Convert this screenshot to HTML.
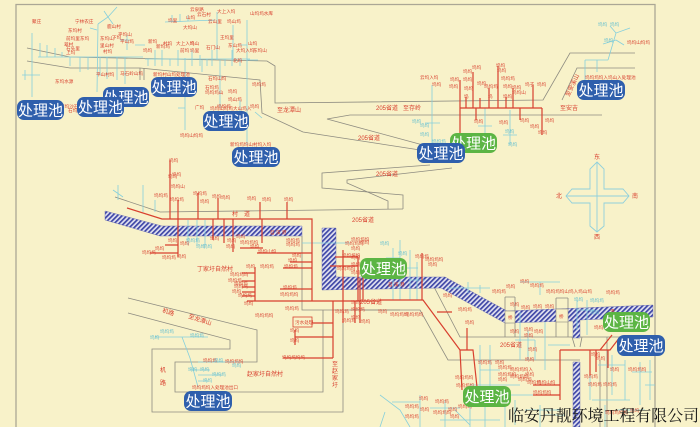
<!DOCTYPE html>
<html><head><meta charset="utf-8">
<style>
html,body{margin:0;padding:0;background:#f8f2c9;width:700px;height:427px;overflow:hidden}
svg{display:block}
.s{font-family:"Liberation Sans","Noto Sans CJK SC",sans-serif;font-size:4.6px;fill:#d8402f}
.c{font-family:"Liberation Sans","Noto Sans CJK SC",sans-serif;font-size:4.6px;fill:#5bbcd0}
.m{font-family:"Liberation Sans","Noto Sans CJK SC",sans-serif;font-size:6px;fill:#d8402f}
.lb{font-family:"Liberation Sans","Noto Sans CJK SC",sans-serif;font-size:15px;fill:#fff}
</style></head><body>
<svg width="700" height="427" viewBox="0 0 700 427" xmlns="http://www.w3.org/2000/svg">
<defs>
<pattern id="h" width="3.4" height="3.4" patternUnits="userSpaceOnUse" patternTransform="rotate(45)">
<rect width="3.4" height="3.4" fill="#e2e2f0"/>
<rect width="1.7" height="3.4" fill="#3e46a6"/>
</pattern>
</defs>
<rect width="700" height="427" fill="#f8f2c9"/>
<path d="M16 427 V4.5 H655 V427" fill="none" stroke="#aba795" stroke-width="1.3"/>

<!-- gray roads -->
<g fill="none" stroke="#8d8b80" stroke-width="0.8">
<path d="M27 48 L70 57 L267 61 L275 66 L275 103 L543 100 L570 53 L635 53"/>
<path d="M27 61 L70 68 L140 68 L260 80 L262 113 L303 132 L420 150"/>
<path d="M140 68 V80 M144 68 V80"/>
<path d="M602 115 L350 115 L327 119 L423 145"/>
<path d="M562 100 L577 68 L635 68"/>
<path d="M430 165 L322 173 L322 188 L403 195 L403 209"/>
<path d="M452 168 L347 180 L347 183 L388 201 L388 209"/>
<path d="M115 197 L160 212 L403 209"/>
<path d="M302 236 L302 310 L400 310"/>
<path d="M128 298 L257 330 L257 362 L175 362 L175 392 L323 392 L323 310"/>
<path d="M128 313 L230 340 L230 349 L152 349 L152 412 L343 412 L343 310"/>
<path d="M433 285 L460 337 L653 337"/>
<path d="M350 310 L420 310 L448 360 L580 360"/>
<path d="M505 297 V337 M515 297 V337 M505 297 H515 M556 298 V337 M568 298 V337 M556 298 H568"/>
<path d="M572 337 L575 347 M582 337 L580 347"/>
<path d="M607 337 V427 M600 360 V427"/>
</g>

<!-- rivers -->
<g fill="url(#h)" stroke="#5a5fb0" stroke-width="0.4">
<polygon points="105,211 162,226 302,226 302,236 160,236 105,220"/>
<polygon points="322,228 336,228 336,277 445,277 507,311 653,305 653,317 580,320 580,338 573,338 573,321 505,323 441,288 322,290"/>
<polygon points="573,362 580,362 580,427 573,427"/>
</g>
<g fill="#f8f2c9" stroke="#8d8b80" stroke-width="0.6">
<rect x="505" y="311" width="10" height="12"/>
<rect x="556" y="309" width="12" height="13"/>
</g>
<text class="s" x="270" y="234" font-size="5">苕 溪 港</text>
<text class="s" x="388" y="286" font-size="5">苕 溪 港</text>
<text class="s" x="508" y="319">桥</text>
<text class="s" x="559" y="318">桥</text>
<text class="s" x="610" y="313">港</text>

<!-- cyan network -->
<g fill="none" stroke="#85cfdc" stroke-width="0.8">
<path d="M117 7 L108 17 L98 24 M108 17 L113 24 M108 17 L104 11 M98 24 L97 92 M90 28 L97 30"/>
<path d="M32 33 V97 M22 75 H40 M25 70 V80"/>
<path d="M38 57 H143 M40 43 V57 M47 45 V57 M55 48 V57 M62 52 V57"/>
<path d="M70 57 V66 M80 57 V72 M88 57 V70 M100 57 V76 M107 57 V79 M117 57 V80 M125 57 V84"/>
<path d="M145 59 H250 M148 59 V66 M155 50 V66 M162 50 V66 M170 59 V66 M178 50 V66 M192 50 V66 M200 55 V66 M207 59 V66 M212 50 V66 M225 59 V66 M232 50 V66 M240 59 V66"/>
<path d="M185 58 V130 M178 108 H185 M220 60 V108 M202 60 V72 M247 20 V145 M240 45 H247 M247 60 H258 M240 100 V125 M255 112 L262 118"/>
<path d="M165 22 L215 20 M172 15 V22 M180 14 V22 M188 15 V21 M217 12 V60 M233 25 V60"/>
<path d="M120 40 H130 M127 35 V50 M135 45 H145"/>
<path d="M432 85 V143 M425 123 H440 M485 108 V140 M478 126 H492 M510 110 V145 M503 135 H517"/>
<path d="M585 60 V80 M585 60 H608 M597 60 V72 M608 60 L616 33 L630 28 M603 44 L616 40 M610 26 L616 33 M616 40 L624 45"/>
<path d="M118 185 V200 M113 190 L123 197 M143 185 V212 M155 200 V212 M188 220 V245 M197 220 V245 M205 220 V245 M302 243 H350"/>
<path d="M155 337 H208 M182 337 L190 358 L198 387 M198 362 H240 M190 370 H210 M198 375 H222 M198 381 H208"/>
<path d="M393 248 V300 M400 240 V300 M410 250 V300 M417 262 V300 M386 258 H400 M400 268 H418 M410 280 H425"/>
<path d="M447 288 H490 M468 282 V293 M480 285 V293 M520 282 H560 M540 282 V295 M577 300 V330 M587 300 V335 M577 310 H595"/>
<path d="M520 312 V360 M528 330 V360 M535 340 V360 M545 322 V370 M548 345 H570 M515 340 H535"/>
<path d="M480 345 V395 M490 345 V395 M480 370 H500 M470 385 H520 M500 395 H545 M505 405 V427 M515 400 V425 M525 410 H560 M540 405 V427 M545 415 H565"/>
<path d="M590 355 V400 M598 365 H625 M612 355 V395 M625 360 V400 M632 372 H652 M640 362 V405 M650 360 V400 M645 385 H655 M592 400 H630 M605 405 V427 M618 410 H645"/>
<path d="M380 395 L400 410 L410 427 M392 402 H420 M420 395 V427 M430 408 H460 M445 400 V427 M455 410 L470 425 M385 412 L380 427"/>
<path d="M440 420 H500 M470 405 V427 M485 400 V427"/>
</g>

<!-- red network -->
<g fill="none" stroke="#d8402f" stroke-width="1.2">
<path d="M127 208 L162 219 L312 219 L312 301 M247 301 H380"/>
<path d="M170 160 V219 M178 200 V257 M150 253 H178 M165 245 H178 M198 193 V219 M218 198 V219 M213 219 V240 M224 219 V243 M233 219 V252 M262 219 V243 M240 248 H263 M260 202 V219 M287 202 V219"/>
<path d="M257 253 H312 M290 262 H312 M283 268 H312 M280 289 H312 M255 267 V301 M242 273 H255 M242 281 H255 M242 287 H255 M242 292 H255 M242 296 H255"/>
<path d="M333 301 V358 M312 323 H333 M295 337 H333 M283 358 H333 M295 330 V345"/>
<path d="M343 250 V301 M358 257 V301 M335 257 H358 M330 266 H358 M343 301 V323 M355 301 V323 M360 278 V323"/>
<path d="M460 80 V133 M460 108 H542 M466 97 V108 M473 72 V108 M480 98 V108 M489 88 V108 M498 66 V108 M506 97 V108 M513 88 V108 M533 85 V108 M476 108 V120 M520 108 V120 M542 108 V135"/>
<path d="M380 300 H423 L460 350 L473 350 L477 387 M437 312 H452 M467 328 V350 M422 253 V300 M363 265 V300 M460 350 L462 390"/>
<path d="M560 350 V400 M560 350 H610 L620 337 M590 350 V375 M596 350 V372 M608 350 V368 M533 385 H560 M533 395 H560"/>
<path d="M600 350 L612 335"/>
</g>
<rect x="293" y="317" width="19" height="10" fill="none" stroke="#d8402f" stroke-width="0.8"/>
<text class="s" x="295" y="324">污水处理</text>

<!-- small labels -->
<g>
<text class="s" x="32" y="23">聚庄</text><text class="s" x="75" y="23">宁林农庄</text><text class="s" x="107" y="28">鹿山村</text>
<text class="s" x="68" y="32">东坞村</text><text class="s" x="66" y="40">前坞里</text><text class="s" x="80" y="40">东坞</text>
<text class="s" x="100" y="40">东坞山</text><text class="s" x="112" y="39">下坞</text><text class="s" x="118" y="36">平坞山</text>
<text class="s" x="64" y="46">翠村</text><text class="s" x="66" y="50">石头里</text><text class="s" x="66" y="54">上坞</text>
<text class="s" x="100" y="47">里山村</text><text class="s" x="103" y="53">村坞</text><text class="s" x="120" y="43">平山坞</text>
<text class="s" x="55" y="83">东坞水源</text><text class="s" x="96" y="76">平山村坞</text><text class="s" x="120" y="75">马石岭山坞</text>
<text class="s" x="60" y="108">前坞沙石坞处理</text><text class="s" x="68" y="112">石坞坞</text>
<text class="s" x="190" y="11">云泉路</text><text class="s" x="197" y="16">云石村</text><text class="s" x="186" y="19">山坞</text>
<text class="s" x="168" y="22">坞里</text><text class="s" x="183" y="29">大坞山</text><text class="s" x="208" y="23">云山里</text>
<text class="s" x="217" y="13">大上入坞</text><text class="s" x="227" y="23">坞山坞</text><text class="s" x="250" y="15">山坞坞水库</text>
<text class="s" x="148" y="43">新坞</text><text class="s" x="156" y="48">新坞坞</text><text class="s" x="163" y="45">村坞</text>
<text class="s" x="176" y="45">大上入坞</text><text class="s" x="190" y="45">坞山</text><text class="s" x="180" y="52">前坞</text>
<text class="s" x="190" y="52">坞里</text><text class="s" x="143" y="52">坞坞</text><text class="s" x="206" y="49">石门山</text>
<text class="s" x="220" y="39">王坞里</text><text class="s" x="228" y="47">东山坞</text><text class="s" x="236" y="52">大坞入坞</text>
<text class="s" x="248" y="45">山坞</text><text class="s" x="253" y="52">东坞山</text><text class="s" x="233" y="62">北坞</text>
<text class="s" x="153" y="76">新坞村山坞处理池</text><text class="s" x="208" y="80">石坞山坞</text>
<text class="s" x="205" y="89">石坞坞</text><text class="s" x="205" y="94">坞坞坞山</text><text class="s" x="228" y="93">坞坞</text>
<text class="s" x="228" y="101">坞山坞</text><text class="s" x="217" y="108">坞坞坞</text><text class="s" x="195" y="109">广坞</text>
<text class="s" x="210" y="110">坞坞山坞坞大山坞入</text><text class="s" x="252" y="86">坞坞坞</text><text class="s" x="250" y="108">坞坞</text>
<text class="s" x="230" y="146">新坞坞坞山村坞入坞</text><text class="s" x="180" y="137">坞坞山坞坞</text>
<text class="s" x="169" y="162">坞坞</text><text class="s" x="172" y="176">坞坞</text>
<text class="m" x="277" y="112">至龙潭山</text>

<text class="s" x="420" y="79">云坞入坞</text><text class="s" x="432" y="86">坞坞</text><text class="s" x="450" y="81">坞坞</text>
<text class="s" x="449" y="88">坞坞</text><text class="s" x="463" y="73">坞坞</text><text class="s" x="463" y="81">坞坞</text>
<text class="s" x="464" y="90">坞坞</text><text class="s" x="464" y="98">坞</text><text class="s" x="472" y="69">坞坞</text>
<text class="s" x="477" y="85">坞坞</text><text class="s" x="484" y="88">坞坞坞</text><text class="s" x="488" y="98">坞</text>
<text class="s" x="496" y="67">坞坞</text><text class="s" x="497" y="72">坞坞</text><text class="s" x="501" y="80">坞坞坞</text>
<text class="s" x="503" y="88">坞坞</text><text class="s" x="503" y="98">坞坞</text><text class="s" x="512" y="89">坞坞</text>
<text class="s" x="512" y="94">坞坞山</text><text class="s" x="525" y="86">坞子</text><text class="s" x="537" y="86">坞坞</text>
<text class="s" x="474" y="123">坞坞</text><text class="s" x="499" y="124">坞坞</text><text class="s" x="520" y="122">坞坞</text>
<text class="s" x="545" y="122">坞坞</text><text class="s" x="530" y="128">坞坞</text><text class="s" x="538" y="134">坞坞</text>
<text class="c" x="412" y="123">坞坞</text><text class="c" x="420" y="127">坞坞</text><text class="c" x="420" y="136">坞坞</text>
<text class="c" x="432" y="143">坞坞坞</text><text class="c" x="505" y="133">坞坞</text><text class="c" x="508" y="146">坞坞</text>
<text class="s" x="585" y="79">坞坞坞坞入坞山入处理池</text><text class="s" x="627" y="44">坞坞山坞坞</text>
<text class="c" x="598" y="26">坞坞</text><text class="c" x="610" y="26">坞坞</text><text class="c" x="604" y="42">坞坞</text>
<text class="m" x="376" y="110">205省道</text><text class="m" x="403" y="110">至存岭</text><text class="m" x="560" y="110">至安吉</text>
<text class="m" x="358" y="140">205省道</text><text class="m" x="376" y="176">205省道</text><text class="m" x="352" y="222">205省道</text>
<text class="m" transform="translate(569,97) rotate(-65)">至安溪山</text>

<text class="s" x="168" y="178">坞坞</text><text class="s" x="171" y="188">坞坞山</text><text class="s" x="154" y="197">坞坞坞</text>
<text class="s" x="170" y="201">坞坞坞</text><text class="s" x="193" y="195">坞坞坞</text><text class="s" x="200" y="203">坞坞</text>
<text class="s" x="212" y="198">坞坞</text><text class="s" x="221" y="199">坞坞</text><text class="s" x="247" y="200">坞坞</text>
<text class="s" x="262" y="201">坞坞</text><text class="s" x="284" y="201">坞坞</text>
<text class="s" x="168" y="242">坞坞</text><text class="s" x="180" y="245">坞坞</text><text class="s" x="210" y="240">坞坞</text>
<text class="s" x="227" y="242">坞坞</text><text class="s" x="226" y="248">坞坞</text><text class="s" x="236" y="238">坞坞</text>
<text class="s" x="240" y="244">坞坞坞坞</text><text class="s" x="250" y="248">坞坞</text><text class="s" x="155" y="250">坞坞</text>
<text class="s" x="142" y="254">坞坞坞</text><text class="s" x="162" y="259">坞坞坞</text><text class="s" x="177" y="258">坞坞</text>
<text class="c" x="186" y="242">坞坞坞</text><text class="c" x="196" y="248">坞坞</text><text class="c" x="203" y="248">坞坞</text>
<text class="s" x="286" y="242">坞坞坞</text><text class="s" x="286" y="246">坞坞坞</text><text class="s" x="258" y="253">坞坞山坞</text>
<text class="s" x="292" y="257">坞坞</text><text class="s" x="288" y="262">坞坞</text><text class="s" x="284" y="268">坞坞坞</text>
<text class="s" x="246" y="268">坞坞</text><text class="s" x="260" y="268">坞坞坞</text><text class="s" x="230" y="276">坞坞坞坞</text>
<text class="s" x="228" y="282">坞坞坞</text><text class="s" x="234" y="285">坞坞坞</text><text class="s" x="234" y="288">坞坞坞</text>
<text class="s" x="232" y="293">坞坞</text><text class="s" x="238" y="297">坞坞坞</text><text class="s" x="244" y="305">坞坞</text>
<text class="s" x="283" y="289">坞坞坞</text><text class="s" x="280" y="296">坞坞坞坞</text><text class="s" x="255" y="317">坞坞坞坞</text>
<text class="s" x="285" y="310">坞坞坞</text><text class="s" x="290" y="332">坞坞</text><text class="s" x="290" y="342">坞坞</text>
<text class="s" x="282" y="359">坞坞坞坞坞</text><text class="s" x="335" y="313">坞坞坞</text><text class="s" x="342" y="322">坞坞坞</text>
<text class="s" x="337" y="270">坞坞坞坞</text><text class="s" x="342" y="257">坞坞坞坞</text><text class="s" x="345" y="245">坞坞坞坞</text>
<text class="m" x="197" y="271">丁家圩自然村</text><text class="m" x="232" y="216">村　道</text>
<text class="m" transform="translate(162,312) rotate(18)">机路</text><text class="m" transform="translate(188,318) rotate(18)">至龙潭山</text>
<text class="m" x="160" y="372">机</text><text class="m" x="160" y="385">路</text>
<text class="m" x="247" y="376">赵家圩自然村</text>
<text class="m" x="332" y="366">至</text><text class="m" x="332" y="373">赵</text><text class="m" x="332" y="380">家</text><text class="m" x="332" y="387">圩</text>
<text class="m" x="360" y="304">205省道</text><text class="m" x="500" y="347">205省道</text>
<text class="c" x="160" y="333">坞坞坞</text><text class="c" x="190" y="337">坞坞坞</text><text class="c" x="150" y="339">坞坞</text>
<text class="s" x="203" y="362">坞坞坞</text><text class="c" x="214" y="362">坞坞</text><text class="s" x="225" y="363">坞坞坞坞</text>
<text class="c" x="232" y="367">坞坞</text><text class="c" x="188" y="371">坞坞</text><text class="c" x="200" y="371">坞坞</text>
<text class="c" x="212" y="376">坞坞坞</text><text class="c" x="203" y="382">坞坞</text>
<text class="s" x="192" y="389">坞坞坞坞入处理池出口</text>

<text class="s" x="492" y="293">坞坞坞</text><text class="s" x="506" y="288">坞坞</text><text class="s" x="520" y="283">坞坞</text>
<text class="s" x="530" y="287">坞坞坞</text><text class="s" x="546" y="293">坞坞坞坞山坞入坞山坞</text><text class="s" x="606" y="294">坞坞坞</text>
<text class="c" x="590" y="302">坞坞坞</text><text class="s" x="510" y="306">坞坞</text><text class="s" x="521" y="309">坞坞</text>
<text class="s" x="533" y="308">坞坞</text><text class="s" x="545" y="308">坞坞</text><text class="c" x="574" y="301">坞坞</text>
<text class="c" x="590" y="314">坞坞</text><text class="s" x="594" y="329">坞坞坞</text><text class="s" x="524" y="331">坞坞</text>
<text class="s" x="534" y="333">坞坞</text><text class="s" x="510" y="333">坞坞</text><text class="s" x="524" y="337">坞坞</text>
<text class="s" x="443" y="297">坞坞</text><text class="s" x="458" y="311">坞坞坞</text><text class="s" x="465" y="324">坞坞</text>
<text class="s" x="478" y="364">坞坞坞</text><text class="s" x="495" y="364">坞坞</text><text class="s" x="498" y="369">坞坞坞</text>
<text class="s" x="498" y="376">坞坞坞坞</text><text class="s" x="498" y="381">坞坞</text><text class="s" x="510" y="371">坞坞坞坞入</text>
<text class="s" x="510" y="378">坞坞坞坞</text><text class="s" x="525" y="376">坞坞</text><text class="s" x="518" y="381">坞坞坞</text>
<text class="s" x="527" y="384">坞坞坞</text><text class="s" x="537" y="384">坞坞山坞</text><text class="s" x="533" y="394">坞坞坞坞</text>
<text class="s" x="525" y="361">坞坞</text><text class="s" x="528" y="351">坞坞</text><text class="s" x="455" y="379">坞坞坞坞</text>
<text class="s" x="456" y="387">坞坞坞坞</text><text class="s" x="591" y="356">坞坞</text><text class="s" x="596" y="360">坞坞</text>
<text class="s" x="610" y="371">坞坞</text><text class="s" x="628" y="371">坞坞坞坞</text><text class="s" x="584" y="378">坞坞坞</text>
<text class="s" x="588" y="386">坞坞坞</text><text class="s" x="603" y="386">坞坞坞</text><text class="s" x="605" y="414">坞坞坞坞坞</text>
<text class="s" x="630" y="412">坞坞</text><text class="s" x="419" y="400">坞坞</text><text class="s" x="435" y="403">坞坞坞</text>
<text class="s" x="405" y="408">坞坞坞</text><text class="s" x="420" y="411">坞坞</text><text class="s" x="433" y="414">坞坞坞坞</text>
<text class="s" x="448" y="411">坞坞</text><text class="s" x="458" y="408">坞坞坞</text><text class="s" x="450" y="418">坞坞</text>
<text class="s" x="405" y="418">坞坞坞</text><text class="s" x="618" y="322">坞坞坞</text>
<text class="s" x="351" y="241">坞坞坞坞</text><text class="s" x="360" y="244">坞坞</text><text class="s" x="351" y="250">坞坞</text>
<text class="s" x="351" y="259">坞坞</text><text class="s" x="351" y="266">坞坞</text><text class="s" x="351" y="274">坞坞</text>
<text class="s" x="351" y="304">坞坞</text><text class="s" x="351" y="311">坞坞坞</text><text class="s" x="351" y="319">坞坞</text>
<text class="s" x="361" y="323">坞坞</text><text class="s" x="390" y="316">坞坞坞坞</text><text class="s" x="405" y="316">坞坞坞坞</text>
<text class="s" x="378" y="313">坞坞</text><text class="s" x="415" y="258">坞坞坞</text><text class="s" x="428" y="266">坞坞</text>
<text class="s" x="425" y="261">坞坞坞坞</text><text class="c" x="398" y="255">坞坞</text><text class="c" x="380" y="245">坞坞</text>
</g>

<!-- compass -->
<g fill="none" stroke="#8fd0dc" stroke-width="0.9">
<path d="M597 162 L604 169 L604 189 L623 189 L629 196 L623 203 L604 203 L604 226 L597 232 L590 226 L590 203 L572 203 L566 196 L572 189 L590 189 L590 169 Z"/>
<path d="M597 162 V232 M566 196 H629"/>
</g>
<text class="m" x="594" y="159">东</text><text class="m" x="556" y="198">北</text>
<text class="m" x="632" y="198">南</text><text class="m" x="594" y="239">西</text>

<!-- treatment pool labels -->
<g>
<rect x="103" y="87" width="46" height="20" rx="7" fill="#2f5fac"/><text class="lb" x="126" y="102.5" text-anchor="middle">处理池</text>
<rect x="17" y="100" width="47" height="20" rx="7" fill="#2f5fac"/><text class="lb" x="40.5" y="115.5" text-anchor="middle">处理池</text>
<rect x="77" y="97" width="47" height="20" rx="7" fill="#2f5fac"/><text class="lb" x="100.5" y="112.5" text-anchor="middle">处理池</text>
<rect x="151" y="77" width="46" height="20" rx="7" fill="#2f5fac"/><text class="lb" x="174" y="92.5" text-anchor="middle">处理池</text>
<rect x="203" y="111" width="46" height="20" rx="7" fill="#2f5fac"/><text class="lb" x="226" y="126.5" text-anchor="middle">处理池</text>
<rect x="232" y="147" width="48" height="20" rx="7" fill="#2f5fac"/><text class="lb" x="256" y="162.5" text-anchor="middle">处理池</text>
<rect x="450" y="133" width="47" height="20" rx="7" fill="#5cb544"/><text class="lb" x="473.5" y="148.5" text-anchor="middle">处理池</text>
<rect x="417" y="143" width="48" height="20" rx="7" fill="#2f5fac"/><text class="lb" x="441" y="158.5" text-anchor="middle">处理池</text>
<rect x="577" y="80" width="48" height="20" rx="7" fill="#2f5fac"/><text class="lb" x="601" y="95.5" text-anchor="middle">处理池</text>
<rect x="360" y="258" width="47" height="21" rx="7" fill="#5cb544"/><text class="lb" x="383.5" y="274" text-anchor="middle">处理池</text>
<rect x="603" y="312" width="47" height="20" rx="7" fill="#5cb544"/><text class="lb" x="626.5" y="327.5" text-anchor="middle">处理池</text>
<rect x="617" y="335" width="48" height="21" rx="7" fill="#2f5fac"/><text class="lb" x="641" y="351" text-anchor="middle">处理池</text>
<rect x="463" y="386" width="48" height="21" rx="7" fill="#5cb544"/><text class="lb" x="487" y="402" text-anchor="middle">处理池</text>
<rect x="184" y="391" width="48" height="20" rx="7" fill="#2f5fac"/><text class="lb" x="208" y="406.5" text-anchor="middle">处理池</text>
</g>

<text x="508" y="421" font-family="'Liberation Serif','Noto Serif CJK SC',serif" font-size="16" fill="#151515" textLength="191" lengthAdjust="spacing">临安丹靓环境工程有限公司</text>
</svg>
</body></html>
